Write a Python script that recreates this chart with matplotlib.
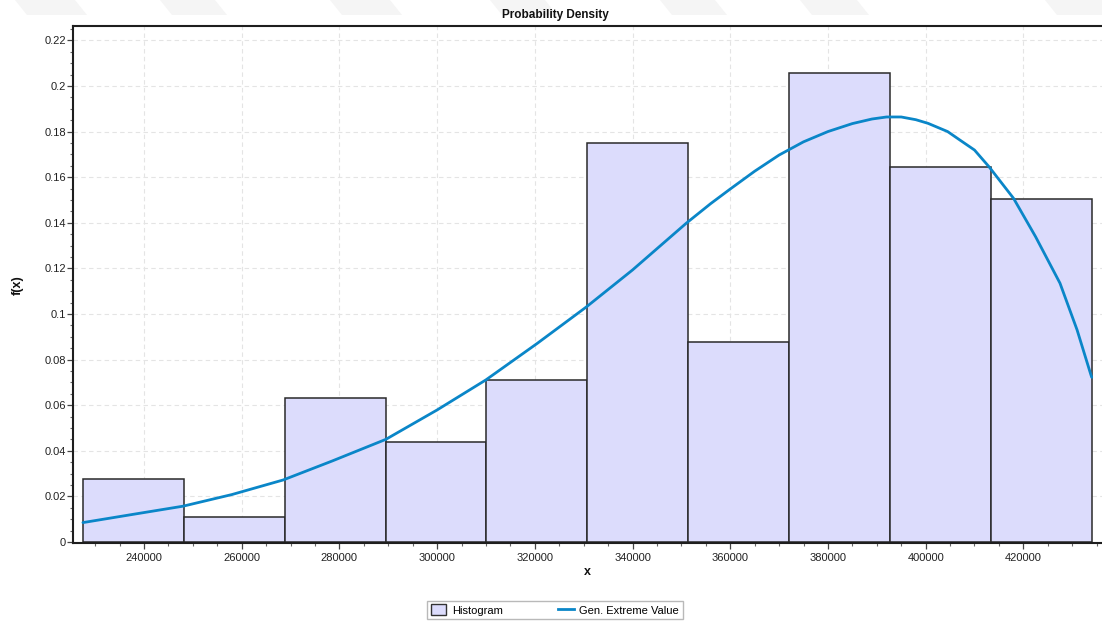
import matplotlib
matplotlib.use("Agg")
import numpy as np
import matplotlib.pyplot as plt
from matplotlib.patches import Polygon, Patch
from matplotlib.lines import Line2D
from matplotlib.ticker import MultipleLocator, FuncFormatter

# Histogram bins (relative frequencies)
bin_edges = [227500, 248150, 268800, 289450, 310100, 330750,
             351400, 372050, 392700, 413350, 434000]
bin_heights = [0.0276, 0.0111, 0.0632, 0.0439, 0.0711,
               0.1750, 0.0877, 0.2057, 0.1645, 0.1504]

# Fitted Gen. Extreme Value density
gev_x = [227500, 238000, 248000, 258000, 268500, 278500, 289500, 300000,
         310000, 320500, 330500, 340000, 351000, 356000, 360000, 365000,
         370000, 375000, 380000, 385000, 389000, 392000, 395000, 398000,
         400500, 404500, 407000, 410000, 413000, 418000, 422500, 427500,
         431000, 433800, 434000]
gev_y = [0.0085, 0.0122, 0.0157, 0.0208, 0.0272, 0.0355, 0.0450, 0.0579,
         0.0711, 0.0871, 0.1030, 0.1193, 0.1398, 0.1484, 0.1548, 0.1626,
         0.1697, 0.1755, 0.1800, 0.1835, 0.1855, 0.1864, 0.1864, 0.1852,
         0.1836, 0.1800, 0.1763, 0.1719, 0.1645, 0.1507, 0.1339, 0.1135,
         0.0930, 0.0735, 0.0722]

x_ticks = [240000, 260000, 280000, 300000, 320000, 340000,
           360000, 380000, 400000, 420000]

W, H = 1102, 622
plt.rcParams['font.family'] = ['Liberation Sans', 'DejaVu Sans']
fig = plt.figure(figsize=(W / 100, H / 100), dpi=100)

# faint banner shapes along the top edge
for x0, x1 in [(15, 75), (160, 215), (330, 390), (490, 545),
               (660, 715), (800, 857), (1045, 1102)]:
    pts = [(x0 / W, 1.0), (x1 / W, 1.0), ((x1 + 12) / W, 1 - 15 / H),
           ((x0 + 12) / W, 1 - 15 / H)]
    fig.patches.append(Polygon(pts, closed=True, transform=fig.transFigure,
                               facecolor='#f5f5f5', edgecolor='none', zorder=0))

left, right, top, bottom = 73, 1102, 26, 543
ax = fig.add_axes([left / W, 1 - bottom / H, (right - left) / W, (bottom - top) / H])

widths = np.diff(bin_edges)
ax.bar(bin_edges[:-1], bin_heights, width=widths, align='edge',
       color='#dcdcfc', edgecolor='#2a2a2a', linewidth=1.1, zorder=2)
ax.plot(gev_x, gev_y, color='#0a86c8', linewidth=2.0, zorder=3,
        solid_capstyle='round', solid_joinstyle='round')

ax.set_xlim(225470, 436100)
ax.set_ylim(-0.00045, 0.2263)

ax.set_xticks(x_ticks)
ax.xaxis.set_minor_locator(MultipleLocator(5000))
ax.yaxis.set_major_locator(MultipleLocator(0.02))
ax.yaxis.set_minor_locator(MultipleLocator(0.005))
ax.xaxis.set_major_formatter(FuncFormatter(lambda v, p: f"{int(round(v))}"))
ax.yaxis.set_major_formatter(FuncFormatter(lambda v, p: f"{round(v, 2):g}"))

ax.tick_params(axis='both', which='major', direction='out', length=4,
               width=0.9, color='#444444', labelsize=8, labelcolor='#222222')
ax.tick_params(axis='both', which='minor', direction='out', length=2.2,
               width=0.8, color='#666666')
ax.tick_params(axis='y', which='major', pad=1)
ax.tick_params(axis='x', which='major', pad=3)

ax.grid(True, which='major', color='#e4e4e4', linestyle=(0, (4, 3)),
        linewidth=0.8)
ax.set_axisbelow(True)

for side in ('left', 'bottom', 'top'):
    ax.spines[side].set_color('#1e1e1e')
    ax.spines[side].set_linewidth(1.5)
ax.spines['right'].set_visible(False)

fig.text(555 / W, 1 - 15 / H, 'Probability Density', ha='center', va='center',
         fontsize=8.5, fontweight='bold', color='#111111')
fig.text(587 / W, 1 - 572 / H, 'x', ha='center', va='center',
         fontsize=9, fontweight='bold', color='#111111')
fig.text(18 / W, 1 - 285 / H, 'f(x)', ha='center', va='center', rotation=90,
         fontsize=9, fontweight='bold', color='#111111')

handles = [Patch(facecolor='#dcdcfc', edgecolor='#333333', linewidth=1.0),
           Line2D([0], [0], color='#0a86c8', linewidth=2.0)]
leg = fig.legend(handles, ['Histogram', 'Gen. Extreme Value'], ncol=2,
                 loc='center', bbox_to_anchor=(555 / W, 1 - 610 / H),
                 fontsize=8, frameon=True, fancybox=False, shadow=False,
                 edgecolor='#a8a8a8', handlelength=1.4, handleheight=1.1,
                 columnspacing=5.0, handletextpad=0.5, borderpad=0.3)
leg.get_frame().set_linewidth(1.0)

fig.savefig('out.png', dpi=100)
